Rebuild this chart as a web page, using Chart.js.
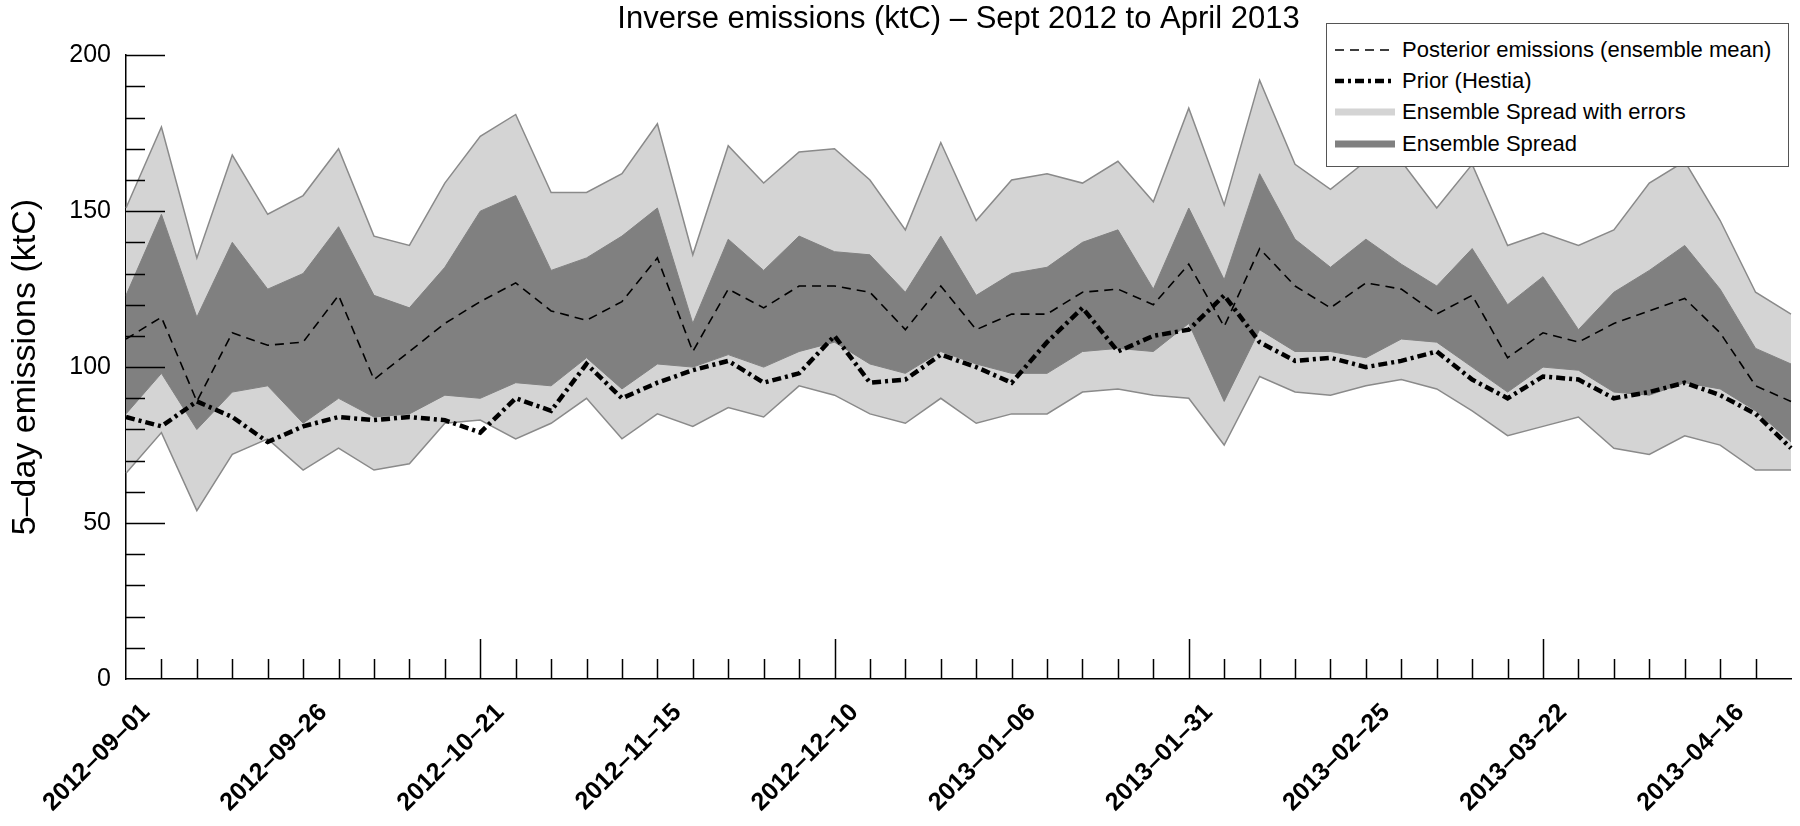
<!DOCTYPE html>
<html>
<head>
<meta charset="utf-8">
<title>Inverse emissions</title>
<script src="https://cdn.jsdelivr.net/npm/chart.js@4.4.1/dist/chart.umd.min.js"></script>
<style>
  html, body { margin: 0; padding: 0; background: #fff; }
  #wrap { position: relative; width: 1800px; height: 826px; }
  #legend {
    position: absolute; left: 1326px; top: 23px; width: 463px; height: 144px;
    box-sizing: border-box; border: 1.5px solid #555; background: #fff;
    padding: 10px 0 0 8px;
    font-family: 'Liberation Sans', Arial, Helvetica, sans-serif; font-size: 22px; color: #000;
  }
  #legend .row { display: flex; align-items: center; height: 31.3px; }
  #legend svg { margin-right: 7px; flex: none; }
</style>
</head>
<body>
<div id="wrap">
  <canvas id="chart"></canvas>
  <div id="legend"></div>
</div>
<script>
// 5-day periods, one label every 5 periods
const tickLabels = ['2012–09–01', '2012–09–26', '2012–10–21', '2012–11–15', '2012–12–10',
                    '2013–01–06', '2013–01–31', '2013–02–25', '2013–03–22', '2013–04–16'];
const nPeriods = 48;

// Posterior emissions (ensemble mean), ktC
const posteriorMean = [109, 116, 89, 111, 107, 108, 123, 96, 105, 114, 121, 127, 118, 115, 121, 135,
                       105, 125, 119, 126, 126, 124, 112, 126, 112, 117, 117, 124, 125, 120, 133, 113,
                       138, 126, 119, 127, 125, 117, 123, 103, 111, 108, 114, 118, 122, 111, 94, 89];

// Prior (Hestia), ktC
const priorHestia = [84, 81, 89, 84, 76, 81, 84, 83, 84, 83, 79, 90, 86, 101, 90, 95,
                     99, 102, 95, 98, 110, 95, 96, 104, 100, 95, 108, 119, 105, 110, 112, 123,
                     108, 102, 103, 100, 102, 105, 96, 90, 97, 96, 90, 92, 95, 91, 85, 74];

// Ensemble spread (dark band)
const spreadHigh = [123, 149, 116, 140, 125, 130, 145, 123, 119, 132, 150, 155, 131, 135, 142, 151,
                    114, 141, 131, 142, 137, 136, 124, 142, 123, 130, 132, 140, 144, 125, 151, 128,
                    162, 141, 132, 141, 133, 126, 138, 120, 129, 112, 124, 131, 139, 125, 106, 101];
const spreadLow = [85, 98, 80, 92, 94, 82, 90, 84, 85, 91, 90, 95, 94, 103, 93, 101,
                   100, 104, 100, 105, 108, 101, 98, 105, 101, 98, 98, 105, 106, 105, 114, 89,
                   112, 105, 105, 103, 109, 108, 100, 92, 100, 99, 92, 91, 95, 93, 86, 76];

// Ensemble spread with errors (light band)
const errHigh = [151, 177, 135, 168, 149, 155, 170, 142, 139, 159, 174, 181, 156, 156, 162, 178,
                 136, 171, 159, 169, 170, 160, 144, 172, 147, 160, 162, 159, 166, 153, 183, 152,
                 192, 165, 157, 166, 166, 151, 165, 139, 143, 139, 144, 159, 166, 147, 124, 117];
const errLow = [66, 79, 54, 72, 77, 67, 74, 67, 69, 82, 83, 77, 82, 90, 77, 85,
                81, 87, 84, 94, 91, 85, 82, 90, 82, 85, 85, 92, 93, 91, 90, 75,
                97, 92, 91, 94, 96, 93, 86, 78, 81, 84, 74, 72, 78, 75, 67, 67];

const labels = Array.from({ length: nPeriods }, (_, i) => (i % 5 === 0 ? tickLabels[i / 5] : ''));

const FONT = "'Liberation Sans', Arial, Helvetica, sans-serif";
const LIGHT = '#d4d4d4';
const DARK = '#808080';
const EDGE = '#8a8a8a';

// ticks drawn inside the axes, like the original figure
const innerTicks = {
    id: 'innerTicks',
    afterDatasetsDraw(chart) {
        const { ctx, scales: { x, y } } = chart;
        ctx.save();
        ctx.strokeStyle = '#000';
        ctx.lineWidth = 1.5;
        ctx.beginPath();
        for (let v = 10; v <= 200; v += 10) {
            const py = Math.round(y.getPixelForValue(v)) + 0.5;
            ctx.moveTo(x.left, py);
            ctx.lineTo(x.left + (v % 50 === 0 ? 39 : 19), py);
        }
        for (let i = 1; i < nPeriods - 1; i++) {
            const px = Math.round(x.getPixelForValue(i)) + 0.5;
            ctx.moveTo(px, y.bottom);
            ctx.lineTo(px, y.bottom - (i % 10 === 0 ? 40 : 20));
        }
        ctx.stroke();
        ctx.restore();
    },
};

const line = (extra) => ({ pointRadius: 0, pointHoverRadius: 0, tension: 0, fill: false, ...extra });

const ctx = document.getElementById('chart');
const chart = new Chart(ctx, {
    type: 'line',
    data: {
        labels,
        datasets: [
            line({ label: 'Posterior emissions (ensemble mean)', data: posteriorMean, borderColor: '#000',
                   borderWidth: 1.6, borderDash: [9, 6], order: 0 }),
            line({ label: 'Prior (Hestia)', data: priorHestia, borderColor: '#000',
                   borderWidth: 4.5, borderDash: [9, 4, 3, 4], order: 1 }),
            line({ label: 'spread-low', data: spreadLow, borderColor: DARK, borderWidth: 1, order: 2 }),
            line({ label: 'Ensemble Spread', data: spreadHigh, borderColor: DARK, borderWidth: 1,
                   backgroundColor: DARK, fill: '-1', order: 2 }),
            line({ label: 'err-low', data: errLow, borderColor: EDGE, borderWidth: 1.5, order: 3 }),
            line({ label: 'Ensemble Spread with errors', data: errHigh, borderColor: EDGE, borderWidth: 1.5,
                   backgroundColor: LIGHT, fill: '-1', order: 3 }),
        ],
    },
    options: {
        responsive: true,
        maintainAspectRatio: false,
        animation: false,
        events: [],
        layout: { padding: { top: 0, right: 9, bottom: 0, left: 0 } },
        plugins: {
            legend: { display: false },
            tooltip: { enabled: false },
            title: {
                display: true,
                fullSize: false,
                text: 'Inverse emissions (ktC) – Sept 2012 to April 2013',
                color: '#000',
                font: { family: FONT, size: 31, weight: 'normal', lineHeight: 1.2 },
                padding: { top: 1, bottom: 17 },
            },
        },
        scales: {
            x: {
                type: 'category',
                offset: false,
                grid: { display: false, drawTicks: false },
                border: { display: true, color: '#000', width: 1.5 },
                ticks: {
                    autoSkip: false,
                    minRotation: 45,
                    maxRotation: 45,
                    labelOffset: 20,
                    padding: 19,
                    color: '#000',
                    font: { family: FONT, size: 25, weight: 'bold' },
                },
                afterFit(scale) {
                    scale.height = 147;
                    // rotated labels would otherwise push the plot edges inward
                    scale.paddingLeft = 0;
                    scale.paddingRight = 0;
                },
            },
            y: {
                min: 0,
                max: 200,
                grid: { display: false, drawTicks: false },
                border: { display: true, color: '#000', width: 1.5 },
                ticks: {
                    stepSize: 50,
                    padding: 15,
                    color: '#000',
                    font: { family: FONT, size: 25 },
                },
                title: {
                    display: true,
                    text: '5–day emissions (ktC)',
                    color: '#000',
                    font: { family: FONT, size: 34 },
                    padding: { top: 5, bottom: 0 },
                },
                afterFit(scale) { scale.width = 126; },
            },
        },
    },
    plugins: [innerTicks],
});

// legend box, built from the dataset styles
const legendItems = [
    { ds: 0, stroke: '#000', width: 1.6, dash: '9 6' },
    { ds: 1, stroke: '#000', width: 4.5, dash: '9 4 3 4' },
    { ds: 5, stroke: LIGHT, width: 7, dash: '' },
    { ds: 3, stroke: DARK, width: 7, dash: '' },
];
document.getElementById('legend').innerHTML = legendItems.map((it) => `
  <div class="row">
    <svg width="60" height="12"><line x1="0" y1="6" x2="60" y2="6" stroke="${it.stroke}"
      stroke-width="${it.width}" ${it.dash ? `stroke-dasharray="${it.dash}"` : ''}/></svg>
    <span>${chart.data.datasets[it.ds].label}</span>
  </div>`).join('');
</script>
</body>
</html>
